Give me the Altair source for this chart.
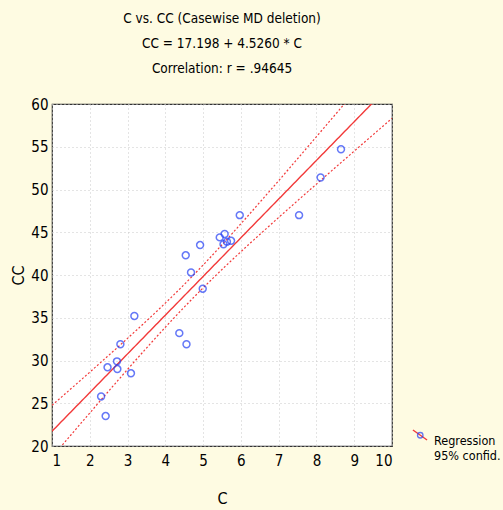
import altair as alt
import numpy as np
import pandas as pd

# --- data ---
c_vals = [2.30, 2.42, 2.47, 2.72, 2.73, 2.81, 3.09, 3.18, 4.37, 4.56, 4.54, 4.68,
          4.92, 4.99, 5.44, 5.54, 5.57, 5.63, 5.74, 5.97, 7.54, 8.11, 8.65]
cc_vals = [25.8, 23.5, 29.2, 29.9, 29.0, 31.9, 28.5, 35.2, 33.2, 31.9, 42.3, 40.3,
           43.5, 38.4, 44.4, 43.6, 44.8, 43.9, 44.0, 47.0, 47.0, 51.4, 54.7]

intercept = 17.198   # from the chart subtitle
slope = 4.5260
title_lines = ["C vs. CC (Casewise MD deletion)",
               "CC = 17.198 + 4.5260 * C",
               "Correlation: r = .94645"]
x_ticks = [1, 2, 3, 4, 5, 6, 7, 8, 9, 10]
y_ticks = [20, 25, 30, 35, 40, 45, 50, 55, 60]

FONT = "Liberation Sans Narrow, DejaVu Sans Condensed, Arial Narrow, sans-serif"

pts = pd.DataFrame({"C": c_vals, "CC": cc_vals, "kind": "pt"})

# regression line and 95% confidence band for the mean
x = np.array(c_vals)
y = np.array(cc_vals)
n = len(x)
resid = y - (intercept + slope * x)
s = np.sqrt(np.sum(resid ** 2) / (n - 2))
xbar = x.mean()
sxx = np.sum((x - xbar) ** 2)
t = 2.080  # t(0.975, 21)
grid = np.linspace(1, 10, 181)
fit = intercept + slope * grid
half = t * s * np.sqrt(1.0 / n + (grid - xbar) ** 2 / sxx)
line_df = pd.DataFrame({"C": grid, "CC": fit, "series": "Regression"})
lo_df = pd.DataFrame({"C": grid, "CC": fit - half})
hi_df = pd.DataFrame({"C": grid, "CC": fit + half})

xs = alt.Scale(domain=[1, 10], nice=False, zero=False)
ys = alt.Scale(domain=[20, 60], nice=False, zero=False)
xax = alt.Axis(values=x_ticks, title="C", grid=True, labelOverlap=False,
               labelPadding=7, titlePadding=22)
yax = alt.Axis(values=y_ticks, title="CC", grid=True, labelOverlap=False,
               labelPadding=4, titlePadding=4)
X = alt.X("C:Q", scale=xs, axis=xax)
Y = alt.Y("CC:Q", scale=ys, axis=yax)

RED = "#f23a3a"
BLUE = "#2540f5"
LEG_X, LEG_Y = 360, 323

reg = alt.Chart(line_df).mark_line(color=RED, strokeWidth=1.4, clip=True).encode(
    x=X, y=Y,
    stroke=alt.Stroke("series:N",
                      scale=alt.Scale(domain=["Regression"], range=[RED]),
                      legend=alt.Legend(orient="none", legendX=LEG_X, legendY=LEG_Y,
                                        title=None, symbolType="M-1,-0.7L1,0.7",
                                        symbolSize=200, symbolStrokeWidth=1.4,
                                        labelExpr="['Regression', '95% confid.']",
                                        labelFont=FONT, labelFontSize=12.5,
                                        labelColor="black", labelBaseline="top",
                                        labelOffset=6)),
)

band_lo = alt.Chart(lo_df).mark_line(color=RED, strokeWidth=1.2, strokeDash=[2, 2], clip=True).encode(
    x=X, y=Y)
band_hi = alt.Chart(hi_df).mark_line(color=RED, strokeWidth=1.2, strokeDash=[2, 2], clip=True).encode(
    x=X, y=Y)

points = alt.Chart(pts).mark_point(filled=False, color=BLUE, size=48, strokeWidth=1.5).encode(
    x=X, y=Y,
    shape=alt.Shape("kind:N", scale=alt.Scale(domain=["pt"], range=["circle"]),
                    legend=alt.Legend(orient="none", legendX=LEG_X + 2, legendY=LEG_Y + 2,
                                      title=None, labelExpr="''",
                                      symbolStrokeColor=BLUE, symbolFillColor="transparent",
                                      symbolSize=30, symbolStrokeWidth=1.3,
                                      labelFontSize=12.5, labelBaseline="top", labelOffset=6)),
)

chart = alt.layer(band_lo, band_hi, reg, points).resolve_legend(
    stroke="independent", shape="independent"
).properties(
    width=340, height=342,
    autosize=alt.AutoSizeParams(type="none"),
    padding={"left": 52, "top": 104, "right": 111, "bottom": 64},
    background="#fefbe2",
    title=alt.Title(text=title_lines, font=FONT, fontSize=13.5, fontWeight="normal",
                    color="black", lineHeight=25, anchor="middle", offset=22),
).configure_view(
    fill="white", stroke="#333", strokeWidth=1.2
).configure_axis(
    labelFont=FONT, labelFontSize=15, labelColor="black",
    titleFont=FONT, titleFontSize=16, titleFontWeight="normal", titleColor="black",
    domain=False, ticks=False,
    gridColor="#c8c8c8", gridDash=[1, 3], gridWidth=1,
)

chart.save("out.html", embed_options={"renderer": "svg", "actions": False})
